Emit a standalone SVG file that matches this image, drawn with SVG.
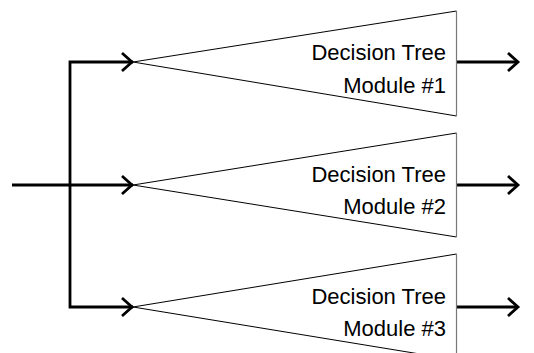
<svg xmlns="http://www.w3.org/2000/svg" width="534" height="353" viewBox="0 0 534 353">
<style>
.tri{fill:#fff;stroke:#000;stroke-width:1}
.edge{stroke:#777;stroke-width:1.2}
.lbl{font-family:"Liberation Sans",Arial,sans-serif;font-size:22px;fill:#000;text-anchor:end}
.wire{fill:none;stroke:#000;stroke-width:2.8;stroke-linejoin:miter}
.head{fill:none;stroke:#000;stroke-width:2.8;stroke-linecap:butt;stroke-linejoin:miter}
</style>
<rect width="534" height="353" fill="#fff"/>
<g id="connectors">
<path class="wire" d="M12,185 H133"/>
<path class="wire" d="M70,185 V62 H133"/>
<path class="wire" d="M70,185 V307 H133"/>
<path class="head" d="M122,53 L132,62 L122,71"/>
<path class="head" d="M122,176 L132,185 L122,194"/>
<path class="head" d="M122,298 L132,307 L122,316"/>
<path class="wire" d="M457,62 H518"/>
<path class="wire" d="M457,185 H518"/>
<path class="wire" d="M457,307 H518"/>
<path class="head" d="M508,53 L518,62 L508,71"/>
<path class="head" d="M508,176 L518,185 L508,194"/>
<path class="head" d="M508,298 L518,307 L508,316"/>
</g>
<g id="module1">
<path class="tri" d="M456.5,11 L133,62 L456.5,116"/>
<line class="edge" x1="456.5" y1="11" x2="456.5" y2="116"/>
<text class="lbl" x="446" y="60">Decision Tree</text>
<text class="lbl" x="446" y="93">Module #1</text>
</g>
<g id="module2">
<path class="tri" d="M456.5,133 L133,185 L456.5,237"/>
<line class="edge" x1="456.5" y1="133" x2="456.5" y2="237"/>
<text class="lbl" x="446" y="182">Decision Tree</text>
<text class="lbl" x="446" y="214">Module #2</text>
</g>
<g id="module3">
<path class="tri" d="M456.5,254 L133,307 L456.5,360"/>
<line class="edge" x1="456.5" y1="254" x2="456.5" y2="360"/>
<text class="lbl" x="446" y="304">Decision Tree</text>
<text class="lbl" x="446" y="336">Module #3</text>
</g>
</svg>
